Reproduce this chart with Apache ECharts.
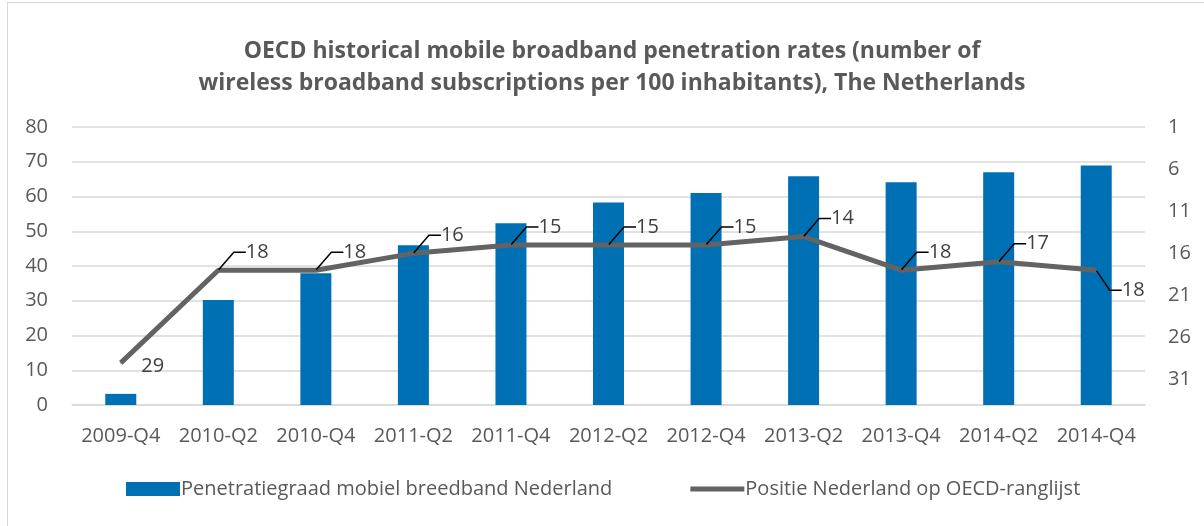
<!DOCTYPE html>
<html>
<head>
<meta charset="utf-8">
<script src="https://cdn.jsdelivr.net/npm/echarts@6/dist/echarts.min.js"></script>
<style>
  html, body { margin: 0; padding: 0; background: #fff; }
  #frame { position: absolute; left: 7px; top: 2px; width: 1250px; height: 600px; border: 1px solid #d9d9d9; }
  #chart { position: absolute; left: 0; top: 0; width: 1204px; height: 526px; }
</style>
</head>
<body>
<div id="frame"></div>
<div id="chart"></div>
<script>
// kwartalen
var quarters = ['2009-Q4', '2010-Q2', '2010-Q4', '2011-Q2', '2011-Q4', '2012-Q2', '2012-Q4', '2013-Q2', '2013-Q4', '2014-Q2', '2014-Q4'];
// abonnementen per 100 inwoners
var penetration = [3.2, 30.2, 37.9, 46.0, 52.3, 58.3, 61.0, 65.8, 64.1, 67.0, 68.9];
// positie op OECD-ranglijst
var rank = [29, 18, 18, 16, 15, 15, 15, 14, 18, 17, 18];
var leftTicks = { min: 0, max: 80, interval: 10 };
var rightTicks = { min: 1, max: 34, interval: 5 };

var font = 'Open Sans';
var myChart = echarts.init(document.getElementById('chart'));

var rankData = rank.map(function (v, i) {
  if (i === 0) return { value: v, labelLine: { show: false } };
  return v;
});

myChart.setOption({
  animation: false,
  title: {
    text: 'OECD historical mobile broadband penetration rates (number of\nwireless broadband subscriptions per 100 inhabitants), The Netherlands',
    left: 607,
    textAlign: 'center',
    top: 30,
    textStyle: {
      fontFamily: font,
      fontSize: 23,
      fontWeight: 'bold',
      color: '#595959',
      lineHeight: 32
    }
  },
  legend: {
    top: 479,
    left: 126,
    padding: 0,
    itemGap: 78,
    itemWidth: 54,
    itemHeight: 14,
    textStyle: { fontFamily: font, fontSize: 20, color: '#595959', padding: [0, 0, 0, -4] },
    data: [
      { name: 'Penetratiegraad mobiel breedband Nederland', icon: 'rect' },
      { name: 'Positie Nederland op OECD-ranglijst', icon: 'path://M0,0 M54,14 M0,4.5 L54,4.5 L54,9.5 L0,9.5 Z' }
    ]
  },
  grid: {
    left: 72,
    right: 59,
    top: 127,
    bottom: 121
  },
  xAxis: {
    type: 'category',
    data: quarters,
    axisTick: { show: false },
    axisLine: { lineStyle: { color: '#d9d9d9', width: 1.5 } },
    axisLabel: { color: '#595959', fontFamily: font, fontSize: 20, margin: 21, interval: 0 }
  },
  yAxis: [
    {
      type: 'value',
      min: leftTicks.min,
      max: leftTicks.max,
      interval: leftTicks.interval,
      axisLine: { show: false },
      axisTick: { show: false },
      axisLabel: { color: '#595959', fontFamily: font, fontSize: 20, margin: 24 },
      splitLine: { lineStyle: { color: '#d9d9d9', width: 1.5 } }
    },
    {
      type: 'value',
      inverse: true,
      min: rightTicks.min,
      max: rightTicks.max,
      interval: rightTicks.interval,
      axisLine: { show: false },
      axisTick: { show: false },
      splitLine: { show: false },
      axisLabel: { color: '#595959', fontFamily: font, fontSize: 20, margin: 23, showMaxLabel: false }
    }
  ],
  series: [
    {
      name: 'Penetratiegraad mobiel breedband Nederland',
      type: 'bar',
      data: penetration,
      barWidth: 31,
      itemStyle: { color: '#0070B4' }
    },
    {
      name: 'Positie Nederland op OECD-ranglijst',
      type: 'line',
      yAxisIndex: 1,
      data: rankData,
      symbol: 'circle',
      symbolSize: 1,
      lineStyle: { color: '#636363', width: 5 },
      itemStyle: { color: '#636363' },
      label: {
        show: true,
        position: 'right',
        distance: 4,
        padding: [0, 0, 0, 9],
        color: '#404040',
        fontFamily: font,
        fontSize: 20
      },
      labelLine: {
        show: true,
        length2: 12,
        lineStyle: { color: '#000', width: 1.5 }
      },
      labelLayout: function (p) {
        if (p.dataIndex === 0) return { dx: 7, dy: 3 };
        if (p.dataIndex === rank.length - 1) return { dx: 12, dy: 20 };
        return { dx: 14, dy: -18 };
      }
    }
  ]
});
</script>
</body>
</html>
